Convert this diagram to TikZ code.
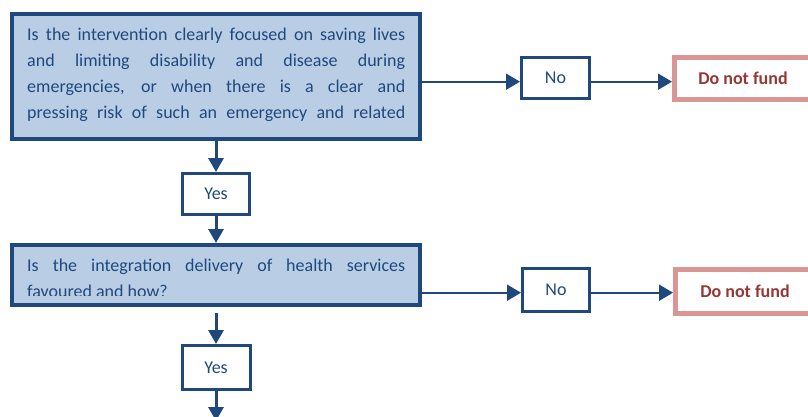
\documentclass[tikz,border=0pt]{standalone}
\usepackage{fontspec}
\setmainfont{Carlito}
\usetikzlibrary{arrows.meta}
\pgfdeclarelayer{edgelayer}
\pgfdeclarelayer{nodelayer}
\pgfsetlayers{edgelayer,nodelayer,main}
\definecolor{boxblue}{RGB}{31,73,125}
\definecolor{boxfill}{RGB}{185,205,229}
\definecolor{verdictpink}{RGB}{217,150,148}
\definecolor{verdictred}{RGB}{149,55,53}
\tikzset{font=\fontsize{18}{25.9}\selectfont}
\tikzstyle{none}=[inner sep=0pt]
\tikzstyle{question}=[draw=boxblue,line width=4pt,fill=boxfill,minimum width=408pt,inner sep=0pt]
\tikzstyle{qtext}=[inner sep=0pt,text=boxblue,align=left,anchor=base west]
\tikzstyle{answer}=[draw=boxblue,line width=3pt,fill=white,text=boxblue,inner sep=0pt]
\tikzstyle{verdict}=[draw=verdictpink,line width=5pt,fill=white,text=verdictred,font=\fontsize{18}{22}\selectfont\bfseries,inner sep=0pt]
\tikzstyle{flow}=[draw=boxblue,line width=3pt,-{Triangle[length=14pt,width=15pt]}]
\tikzstyle{thin flow}=[draw=boxblue,line width=2pt,-{Triangle[length=14pt,width=16pt]}]
\newcommand{\fullline}[1]{\makebox[378pt][s]{#1}}
\begin{document}
\begin{tikzpicture}[x=1pt,y=-1pt]
	\useasboundingbox (0,0) rectangle (808,417);
	\begin{pgfonlayer}{nodelayer}
		\node [style=question, minimum height=125pt] (0) at (216, 76.5) {};
		% base of a multi-line node = baseline of its last line
		\node [style=qtext] (1) at (27, 118.4) {\fullline{Is the intervention clearly focused on saving lives}\\
			\fullline{and limiting disability and disease during}\\
			\fullline{emergencies, or when there is a clear and}\\
			\fullline{pressing risk of such an emergency and related}};
		\node [style=answer, minimum width=67pt, minimum height=41pt] (2) at (216, 194) {Yes};
		\node [style=question, minimum height=60pt] (3) at (216, 275) {};
		\begin{scope}
			\clip (20, 250) rectangle (412, 295);
			\node [style=qtext] (4) at (27, 297.6) {\fullline{Is the integration delivery of health services}\\
				favoured and how?};
		\end{scope}
		\node [style=answer, minimum width=68pt, minimum height=44pt] (5) at (216, 367.5) {Yes};
		\node [style=answer, minimum width=68pt, minimum height=41pt] (6) at (555.5, 78) {No};
		\node [style=verdict, minimum width=137pt, minimum height=42pt] (7) at (743, 78.5) {Do not fund};
		\node [style=answer, minimum width=67pt, minimum height=43pt] (8) at (556, 290) {No};
		\node [style=verdict, minimum width=139pt, minimum height=44pt] (9) at (745, 291.5) {Do not fund};
		\coordinate (10) at (216, 312.5);
		\coordinate (11) at (216, 421);
	\end{pgfonlayer}
	\begin{pgfonlayer}{edgelayer}
		\draw [style=flow] (0) to (2);
		\draw [style=flow] (2) to (3);
		\draw [style=flow] (10) to (5);
		\draw [style=flow] (5) to (11);
		\draw [style=thin flow] ([yshift=-5.2pt]0.east) to ([yshift=-3.7pt]6.west);
		\draw [style=thin flow] ([yshift=-3.7pt]6.east) to ([yshift=-3.2pt]7.west);
		\draw [style=thin flow] ([yshift=-17.7pt]3.east) to ([yshift=-2.7pt]8.west);
		\draw [style=thin flow] ([yshift=-2.7pt]8.east) to ([yshift=-1.2pt]9.west);
	\end{pgfonlayer}
\end{tikzpicture}
\end{document}
